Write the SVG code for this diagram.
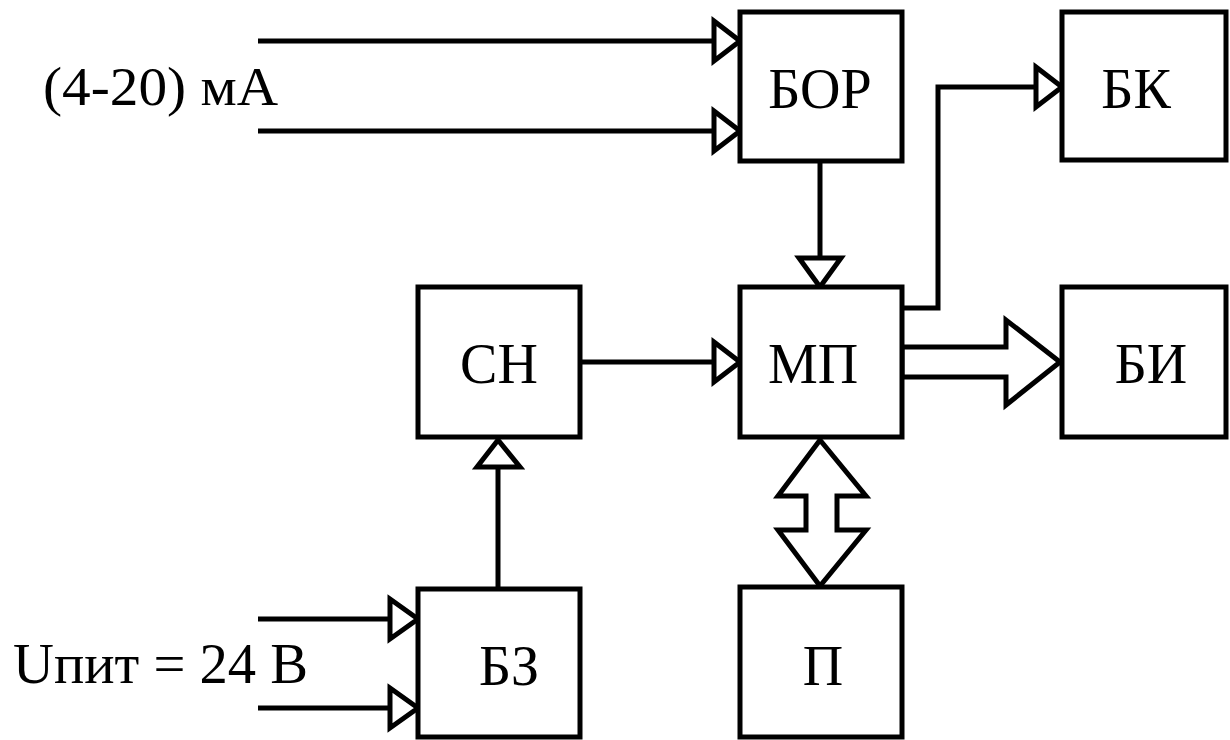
<svg xmlns="http://www.w3.org/2000/svg" width="1230" height="740" viewBox="0 0 1230 740">
<style>
.box{fill:#fff;stroke:#000;stroke-width:5}
.ln{fill:none;stroke:#000;stroke-width:5}
.tri{fill:#fff;stroke:#000;stroke-width:5;stroke-linejoin:miter}
.lbl{font-family:"Liberation Serif","Times New Roman",serif;font-size:56px;fill:#000;text-anchor:middle}
.side{font-family:"Liberation Serif","Times New Roman",serif;fill:#000}
</style>
<rect width="1230" height="740" fill="#fff"/>
<g id="connectors">
  <path class="ln" d="M258,41 H714 M258,131 H714"/>
  <polygon class="tri" points="714,21 740,41 714,61"/>
  <polygon class="tri" points="714,111 740,131 714,151"/>
  <path class="ln" d="M820,161 V258"/>
  <polygon class="tri" points="799,258 841,258 820,287"/>
  <path class="ln" d="M580,362 H714"/>
  <polygon class="tri" points="714,342 740,362 714,382"/>
  <path class="ln" d="M902,308 H938 V87 H1036"/>
  <polygon class="tri" points="1036,67 1062,87 1036,107"/>
  <polygon class="tri" points="902,347 1006,347 1006,320 1060,362 1006,405 1006,377 902,377"/>
  <polygon class="tri" points="820,440 866,496 837,496 837,530 866,530 820,586 778,530 806,530 806,496 778,496"/>
  <path class="ln" d="M498,589 V467"/>
  <polygon class="tri" points="477,467 520,467 498,440"/>
  <path class="ln" d="M258,619 H390 M258,708 H390"/>
  <polygon class="tri" points="390,599 418,619 390,639"/>
  <polygon class="tri" points="390,688 418,708 390,728"/>
</g>
<g id="BOR"><rect class="box" x="740" y="12" width="162" height="149"/><text class="lbl" x="820" y="108">БОР</text></g>
<g id="BK"><rect class="box" x="1062" y="12" width="164" height="148"/><text class="lbl" x="1136" y="108">БК</text></g>
<g id="SN"><rect class="box" x="418" y="287" width="162" height="150"/><text class="lbl" x="499" y="383">СН</text></g>
<g id="MP"><rect class="box" x="740" y="287" width="162" height="150"/><text class="lbl" x="813" y="383">МП</text></g>
<g id="BI"><rect class="box" x="1062" y="287" width="164" height="150"/><text class="lbl" x="1151" y="383">БИ</text></g>
<g id="BZ"><rect class="box" x="418" y="589" width="162" height="148"/><text class="lbl" x="509" y="685">БЗ</text></g>
<g id="P"><rect class="box" x="740" y="587" width="162" height="150"/><text class="lbl" x="823" y="685">П</text></g>
<g id="labels">
  <text class="side" x="43" y="105" font-size="54" textLength="235" lengthAdjust="spacingAndGlyphs">(4-20) мА</text>
  <text class="side" x="13" y="683" font-size="57" textLength="295" lengthAdjust="spacingAndGlyphs">Uпит = 24 В</text>
</g>
</svg>
